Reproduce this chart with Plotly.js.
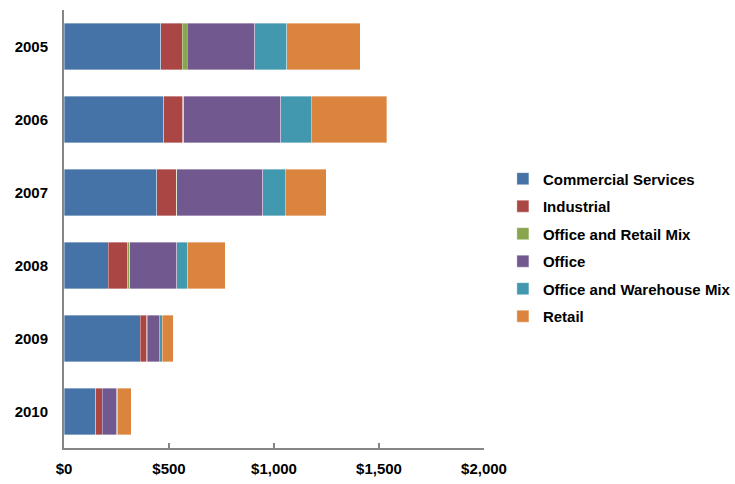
<!DOCTYPE html>
<html>
<head>
<meta charset="utf-8">
<script src="https://cdn.plot.ly/plotly-3.0.1.min.js"></script>
<style>html,body{margin:0;padding:0;background:#fff;}#chart{width:735px;height:484px;}</style>
</head>
<body>
<div id="chart"></div>
<script>
var years = ['2005', '2006', '2007', '2008', '2009', '2010'];
var seriesNames = ['Commercial Services', 'Industrial', 'Office and Retail Mix', 'Office', 'Office and Warehouse Mix', 'Retail'];
var commercialServices = [461, 476, 442, 211, 363, 152];
var industrial = [102, 90, 92, 93, 32, 29];
var officeRetailMix = [25, 4, 2, 8, 1, 0];
var office = [320, 462, 411, 226, 57, 69];
var officeWarehouseMix = [153, 146, 106, 52, 16, 5];
var retail = [349, 360, 195, 179, 52, 65];
var xTicks = [0, 500, 1000, 1500, 2000];
var xTickLabels = ['$0', '$500', '$1,000', '$1,500', '$2,000'];

var colors = ['#4572A7', '#AA4643', '#89A54E', '#71588F', '#4198AF', '#DB843D'];
var values = [commercialServices, industrial, officeRetailMix, office, officeWarehouseMix, retail];

var traces = seriesNames.map(function (name, i) {
  return {
    type: 'bar',
    orientation: 'h',
    name: name,
    y: years,
    x: values[i],
    legendgroup: 'g' + i,
    marker: { color: colors[i], line: { color: 'rgba(255,255,255,0.6)', width: 0.6 } },
    hoverinfo: 'none'
  };
});

var font = "'Liberation Sans', Arial, sans-serif";
var layout = {
  width: 735,
  height: 484,
  margin: { l: 64, r: 251, t: 10, b: 36, autoexpand: false },
  barmode: 'stack',
  bargap: 0.36,
  paper_bgcolor: '#ffffff',
  plot_bgcolor: '#ffffff',
  font: { family: font, size: 15, color: '#000000' },
  showlegend: true,
  legend: {
    x: 1.045, xanchor: 'left',
    y: 0.458, yanchor: 'middle',
    traceorder: 'grouped',
    tracegroupgap: 5,
    font: { family: font, size: 15, color: '#000000', weight: 'bold' },
    bgcolor: 'rgba(0,0,0,0)'
  },
  xaxis: {
    range: [0, 2000],
    tickvals: xTicks,
    ticktext: xTickLabels,
    ticks: 'inside',
    ticklen: 5,
    tickwidth: 1.5,
    tickcolor: '#868686',
    showline: true,
    linecolor: '#868686',
    linewidth: 2,
    showgrid: false,
    zeroline: false,
    fixedrange: true,
    tickfont: { family: font, size: 15, color: '#000000', weight: 'bold' },
    ticklabelstandoff: 6
  },
  yaxis: {
    type: 'category',
    categoryorder: 'array',
    categoryarray: years,
    autorange: 'reversed',
    showline: true,
    linecolor: '#868686',
    linewidth: 2,
    ticks: '',
    showgrid: false,
    zeroline: false,
    fixedrange: true,
    tickfont: { family: font, size: 15, color: '#000000', weight: 'bold' },
    ticklabelstandoff: 11
  }
};

Plotly.newPlot('chart', traces, layout, { displayModeBar: false, staticPlot: true });
</script>
</body>
</html>
